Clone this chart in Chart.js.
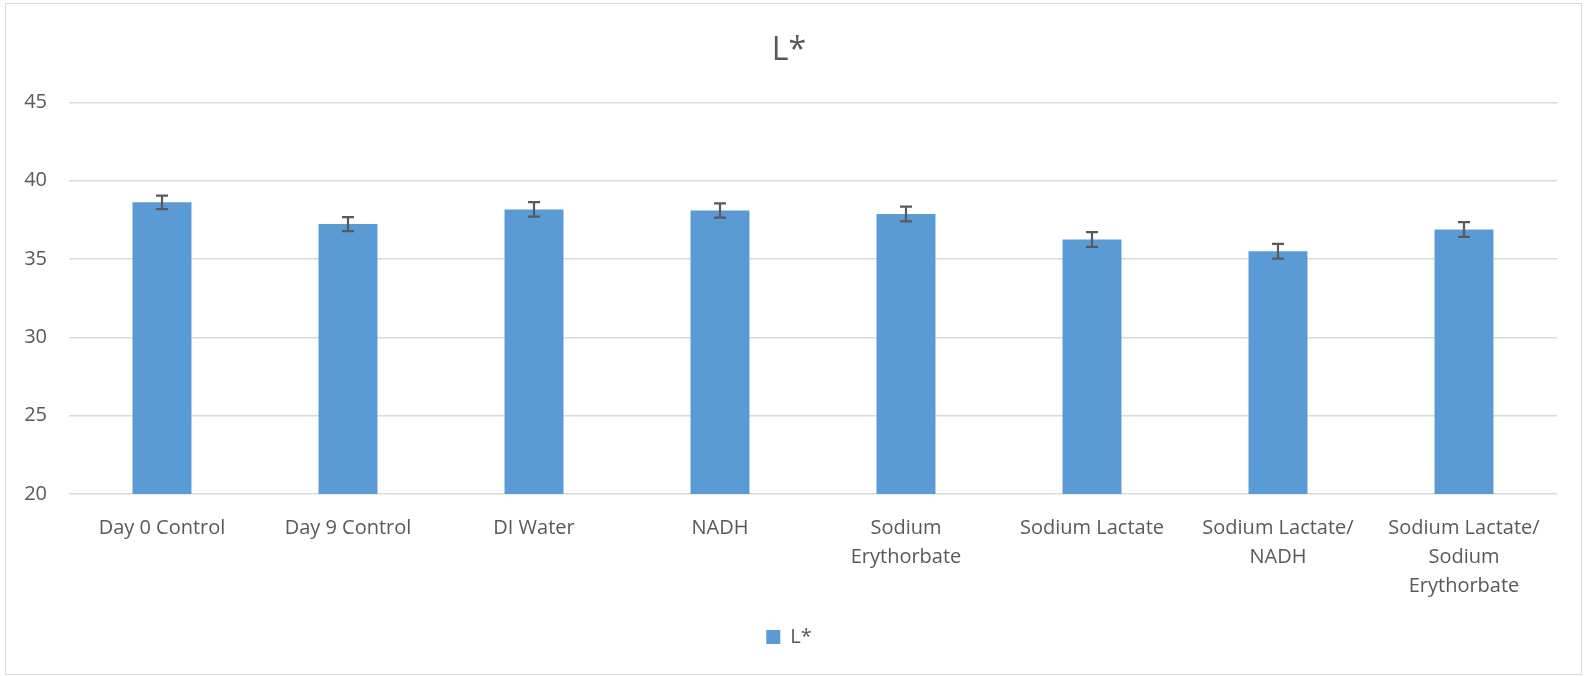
<!DOCTYPE html>
<html lang="en">
<head>
  <meta charset="UTF-8" />
  <title>L*</title>
  <script src="https://cdn.jsdelivr.net/npm/chart.js"></script>
  <style>
    body {
      margin: 0;
      background: #fff;
      font-family: "Open Sans", sans-serif;
    }
    .wrap {
      position: relative;
      width: 1585px;
      height: 676px;
    }
    .frame {
      position: absolute;
      left: 5px;
      top: 3px;
      width: 1575px;
      height: 670px;
      border: 1px solid #d9d9d9;
      pointer-events: none;
    }
  </style>
</head>
<body>
  <div class="wrap">
    <canvas id="chartL" width="1585" height="676"></canvas>
    <div class="frame"></div>
  </div>

  <script>
    // categories (multi-line labels as in the original)
    const categorias = [
      "Day 0 Control",
      "Day 9 Control",
      "DI Water",
      "NADH",
      ["Sodium", "Erythorbate"],
      "Sodium Lactate",
      ["Sodium Lactate/", "NADH"],
      ["Sodium Lactate/", "Sodium", "Erythorbate"]
    ];
    const valoresL = [38.62, 37.23, 38.17, 38.1, 37.87, 36.25, 35.5, 36.89];
    const erros = [0.43, 0.45, 0.46, 0.45, 0.47, 0.47, 0.47, 0.47];

    const cinza = "#595959";

    // error bars drawn on top of the bars
    const errorBars = {
      id: "errorBars",
      afterDatasetsDraw(chart) {
        const ctx = chart.ctx;
        const y = chart.scales.y;
        const meta = chart.getDatasetMeta(0);
        ctx.save();
        ctx.strokeStyle = cinza;
        ctx.lineWidth = 2.2;
        meta.data.forEach((bar, i) => {
          const top = y.getPixelForValue(valoresL[i] + erros[i]);
          const bot = y.getPixelForValue(valoresL[i] - erros[i]);
          ctx.beginPath();
          ctx.moveTo(bar.x, top);
          ctx.lineTo(bar.x, bot);
          ctx.moveTo(bar.x - 6, top);
          ctx.lineTo(bar.x + 6, top);
          ctx.moveTo(bar.x - 6, bot);
          ctx.lineTo(bar.x + 6, bot);
          ctx.stroke();
        });
        ctx.restore();
      }
    };

    new Chart(document.getElementById("chartL"), {
      type: "bar",
      data: {
        labels: categorias,
        datasets: [{
          label: "L*",
          data: valoresL,
          backgroundColor: "#5b9bd5",
          barPercentage: 0.317,
          categoryPercentage: 1
        }]
      },
      options: {
        responsive: false,
        animation: false,
        layout: {
          padding: { left: 21, right: 28, top: 0, bottom: 19 }
        },
        plugins: {
          title: {
            display: true,
            text: "L*",
            color: cinza,
            font: { family: "Open Sans", size: 32, weight: "normal", lineHeight: 1.2 },
            padding: { top: 32, bottom: 32 }
          },
          legend: {
            position: "bottom",
            labels: {
              color: cinza,
              font: { family: "Open Sans", size: 20 },
              boxWidth: 14,
              boxHeight: 14,
              padding: 10
            }
          },
          tooltip: { enabled: false }
        },
        scales: {
          x: {
            grid: { display: false },
            border: { display: false },
            ticks: {
              color: cinza,
              font: { family: "Open Sans", size: 20, lineHeight: 1.45 },
              maxRotation: 0,
              autoSkip: false,
              padding: 12
            },
            afterFit: s => { s.height = 123; }
          },
          y: {
            min: 20,
            max: 45,
            ticks: {
              stepSize: 5,
              color: cinza,
              font: { family: "Open Sans", size: 20 },
              padding: 22
            },
            grid: { color: "#d9d9d9", lineWidth: 1.5, drawTicks: false },
            border: { display: false },
            afterFit: s => { s.width = 48; }
          }
        }
      },
      plugins: [errorBars]
    });
  </script>
</body>
</html>
